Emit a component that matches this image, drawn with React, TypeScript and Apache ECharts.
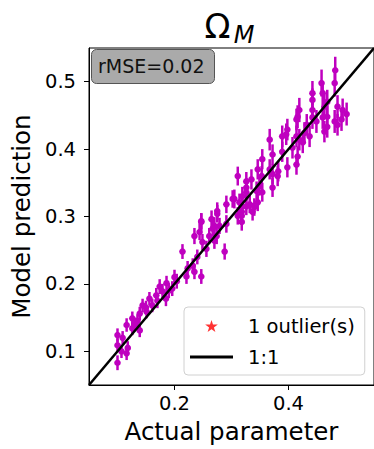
import React, { useEffect, useRef } from "react";
import * as echarts from "echarts";

// Actual parameter values (x)
const actual = [
  0.482, 0.481, 0.458, 0.468, 0.442, 0.463, 0.419, 0.416, 0.442, 0.495,
  0.502, 0.493, 0.481, 0.468, 0.449, 0.432, 0.398, 0.389, 0.367, 0.463,
  0.437, 0.419, 0.407, 0.389, 0.372, 0.354, 0.416, 0.398, 0.382, 0.372,
  0.353, 0.335, 0.311, 0.349, 0.354, 0.326, 0.319, 0.305, 0.291, 0.326,
  0.337, 0.311, 0.318, 0.275, 0.265, 0.270, 0.247, 0.244, 0.261, 0.235,
  0.460, 0.442, 0.486, 0.442, 0.460, 0.486, 0.468, 0.414, 0.396, 0.414,
  0.428, 0.425, 0.367, 0.381, 0.414, 0.326, 0.314, 0.344, 0.372, 0.346,
  0.319, 0.340, 0.291, 0.332, 0.318, 0.274, 0.249, 0.270, 0.256, 0.288,
  0.214, 0.240, 0.232, 0.223, 0.235, 0.247, 0.221, 0.204, 0.186, 0.174,
  0.196, 0.179, 0.168, 0.156, 0.161, 0.144, 0.151, 0.139, 0.126, 0.135,
  0.116, 0.126, 0.139, 0.100, 0.109, 0.100, 0.118, 0.107, 0.116, 0.100,
  0.346, 0.326, 0.302, 0.275, 0.318, 0.247, 0.267, 0.279, 0.170, 0.190,
  0.150, 0.200, 0.185, 0.130,
];

// Model prediction values (y)
const predicted = [
  0.517, 0.498, 0.498, 0.470, 0.483, 0.463, 0.458, 0.448, 0.458, 0.458,
  0.452, 0.444, 0.441, 0.448, 0.441, 0.436, 0.429, 0.419, 0.414, 0.426,
  0.419, 0.414, 0.402, 0.396, 0.392, 0.385, 0.389, 0.373, 0.367, 0.363,
  0.360, 0.355, 0.360, 0.345, 0.336, 0.343, 0.330, 0.326, 0.318, 0.315,
  0.307, 0.301, 0.292, 0.304, 0.296, 0.286, 0.292, 0.277, 0.271, 0.271,
  0.483, 0.473, 0.463, 0.447, 0.447, 0.436, 0.433, 0.444, 0.422, 0.419,
  0.424, 0.410, 0.370, 0.360, 0.377, 0.336, 0.321, 0.338, 0.343, 0.321,
  0.315, 0.314, 0.289, 0.318, 0.307, 0.271, 0.262, 0.264, 0.252, 0.248,
  0.248, 0.240, 0.227, 0.223, 0.218, 0.211, 0.211, 0.204, 0.201, 0.196,
  0.193, 0.189, 0.183, 0.178, 0.168, 0.168, 0.159, 0.156, 0.149, 0.145,
  0.139, 0.134, 0.131, 0.124, 0.120, 0.109, 0.105, 0.100, 0.097, 0.083,
  0.370, 0.352, 0.326, 0.308, 0.301, 0.293, 0.282, 0.286, 0.175, 0.190,
  0.165, 0.210, 0.178, 0.140,
];

// Uncertainty (half-length of error bars)
const errors = [
  0.020, 0.020, 0.020, 0.018, 0.018, 0.018, 0.018, 0.017, 0.017, 0.017,
  0.017, 0.017, 0.017, 0.017, 0.017, 0.016, 0.016, 0.016, 0.016, 0.016,
  0.016, 0.016, 0.016, 0.015, 0.015, 0.015, 0.015, 0.015, 0.015, 0.015,
  0.015, 0.015, 0.014, 0.014, 0.014, 0.014, 0.014, 0.014, 0.013, 0.013,
  0.013, 0.013, 0.013, 0.013, 0.013, 0.013, 0.013, 0.012, 0.012, 0.012,
  0.018, 0.017, 0.017, 0.017, 0.017, 0.016, 0.016, 0.016, 0.016, 0.016,
  0.016, 0.016, 0.015, 0.015, 0.015, 0.014, 0.013, 0.014, 0.014, 0.013,
  0.013, 0.013, 0.013, 0.013, 0.013, 0.012, 0.012, 0.012, 0.012, 0.012,
  0.011, 0.011, 0.011, 0.011, 0.011, 0.011, 0.011, 0.011, 0.011, 0.011,
  0.011, 0.011, 0.011, 0.010, 0.010, 0.010, 0.010, 0.010, 0.010, 0.010,
  0.010, 0.010, 0.010, 0.010, 0.010, 0.010, 0.010, 0.010, 0.010, 0.011,
  0.015, 0.014, 0.013, 0.013, 0.013, 0.012, 0.012, 0.012, 0.011, 0.011,
  0.010, 0.011, 0.011, 0.010,
];

const xTicks = [0.2, 0.4];
const yTicks = [0.1, 0.2, 0.3, 0.4, 0.5];
const axisRange = [0.05, 0.55];
const outliers: number[][] = [];
const rmseLabel = "rMSE=0.02";
const outlierName = "1 outlier(s)";
const lineName = "1:1";

const MAGENTA = "#bf00bf";
const FONT = "DejaVu Sans";
const STAR =
  "path://M0,-10 L2.245,-3.09 L9.51,-3.09 L3.633,1.18 L5.88,8.09 L0,3.82 L-5.88,8.09 L-3.633,1.18 L-9.51,-3.09 L-2.245,-3.09 Z";
const LINE_ICON = "path://M0,0 L43,0 L43,3 L0,3 Z";

export default function App() {
  const ref = useRef<HTMLDivElement>(null);

  useEffect(() => {
    if (!ref.current) return;
    const chart = echarts.init(ref.current, undefined, { renderer: "svg" });
    const points = actual.map((x, i) => [x, predicted[i], errors[i]]);

    chart.setOption({
      animation: false,
      grid: {
        left: 89,
        top: 48,
        right: 0,
        bottom: 62,
        show: true,
        borderColor: "#000",
        borderWidth: 1,
        backgroundColor: "transparent",
      },
      xAxis: {
        type: "value",
        min: axisRange[0],
        max: axisRange[1],
        splitLine: { show: false },
        axisLine: { show: true, lineStyle: { color: "#000", width: 1 } },
        axisTick: { show: true, customValues: xTicks, length: 5, lineStyle: { color: "#000" } },
        axisLabel: {
          customValues: xTicks,
          fontFamily: FONT,
          fontSize: 19.5,
          color: "#000",
          margin: 8,
          formatter: (v: number) => v.toFixed(1),
        },
        name: "Actual parameter",
        nameLocation: "middle",
        nameGap: 34,
        nameTextStyle: { fontFamily: FONT, fontSize: 24.5, color: "#000" },
      },
      yAxis: {
        type: "value",
        min: axisRange[0],
        max: axisRange[1],
        splitLine: { show: false },
        axisLine: { show: true, lineStyle: { color: "#000", width: 1 } },
        axisTick: { show: true, customValues: yTicks, length: 5, lineStyle: { color: "#000" } },
        axisLabel: {
          customValues: yTicks,
          fontFamily: FONT,
          fontSize: 19.5,
          color: "#000",
          margin: 13,
          formatter: (v: number) => v.toFixed(1),
        },
        name: "Model prediction",
        nameLocation: "middle",
        nameGap: 52,
        nameTextStyle: { fontFamily: FONT, fontSize: 24.5, color: "#000" },
      },
      legend: {
        data: [
          { name: outlierName, icon: STAR, itemStyle: { color: "#ff0000" } },
          { name: lineName, icon: LINE_ICON, itemStyle: { color: "#000" } },
        ],
        orient: "vertical",
        left: 184,
        top: 307,
        padding: [8, 10, 7, 6],
        itemGap: 9,
        itemWidth: 43,
        itemHeight: 12,
        selectedMode: false,
        backgroundColor: "#fff",
        borderColor: "#d0d0d0",
        borderWidth: 1,
        borderRadius: 4,
        textStyle: {
          fontFamily: FONT,
          fontSize: 19.5,
          color: "#000",
          lineHeight: 22,
          padding: [0, 0, 0, 10],
        },
      },
      graphic: [
        {
          type: "rect",
          left: 91,
          top: 49,
          shape: { width: 123, height: 34, r: 5 },
          style: { fill: "#aaaaaa", stroke: "#555", lineWidth: 1 },
          z: 10,
        },
        {
          type: "text",
          x: 98,
          y: 66,
          style: {
            text: rmseLabel,
            fontFamily: FONT,
            fontSize: 19,
            fill: "#111",
            textVerticalAlign: "middle",
          },
          z: 11,
        },
        {
          type: "text",
          x: 217.5,
          y: 26,
          style: {
            text: "Ω",
            fontFamily: FONT,
            fontSize: 34,
            fill: "#000",
            textAlign: "center",
            textVerticalAlign: "middle",
          },
        },
        {
          type: "text",
          x: 244,
          y: 35,
          style: {
            text: "M",
            fontFamily: FONT,
            fontStyle: "italic",
            fontSize: 24,
            fill: "#000",
            textAlign: "center",
            textVerticalAlign: "middle",
          },
        },
      ],
      series: [
        {
          type: "custom",
          name: "predictions",
          data: points,
          z: 2,
          renderItem: (_params: any, api: any) => {
            const x = api.value(0);
            const y = api.value(1);
            const e = api.value(2);
            const top = api.coord([x, y + e]);
            const bot = api.coord([x, y - e]);
            const c = api.coord([x, y]);
            return {
              type: "group",
              children: [
                {
                  type: "line",
                  shape: { x1: top[0], y1: top[1], x2: bot[0], y2: bot[1] },
                  style: { stroke: MAGENTA, lineWidth: 2.5 },
                },
                {
                  type: "circle",
                  shape: { cx: c[0], cy: c[1], r: 3.3 },
                  style: { fill: MAGENTA },
                },
              ],
            };
          },
        },
        {
          type: "scatter",
          name: outlierName,
          data: outliers,
          symbol: STAR,
          symbolSize: 12,
          itemStyle: { color: "#ff0000" },
          z: 4,
        },
        {
          type: "line",
          name: lineName,
          data: axisRange.map((v) => [v, v]),
          symbol: "none",
          lineStyle: { color: "#000", width: 2.5 },
          itemStyle: { color: "#000" },
          z: 3,
        },
      ],
    });

    return () => chart.dispose();
  }, []);

  return (
    <div
      ref={ref}
      style={{ position: "fixed", left: 0, top: 0, width: 374, height: 449, background: "#fff" }}
    />
  );
}
